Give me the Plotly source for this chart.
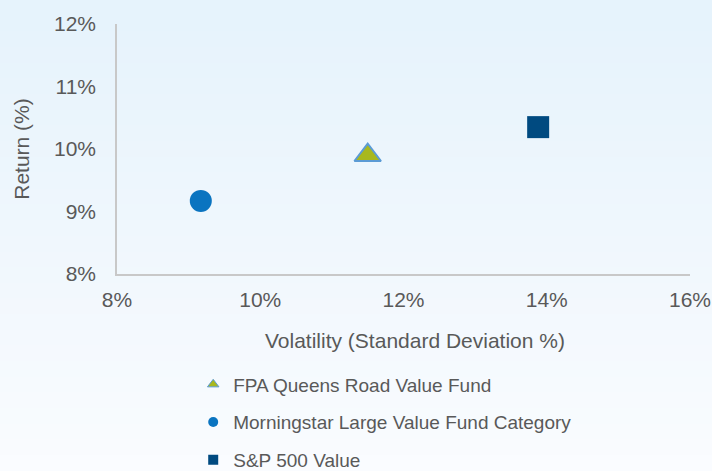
import plotly.graph_objects as go

names = ["FPA Queens Road Value Fund", "Morningstar Large Value Fund Category", "S&P 500 Value"]
volatility = [11.5, 9.17, 13.88]
returns = [9.9, 9.17, 10.35]
symbols = ["triangle-up", "circle", "square"]
fills = ["#a8b81e", "#0a74c0", "#004a80"]
outlines = ["#5b9bd5", "#0a74c0", "#004a80"]
sizes = [23, 22, 22]
legend_sizes = [10, 10, 10]
x_title = "Volatility (Standard Deviation %)"
y_title = "Return (%)"

fig = go.Figure()
for i in range(3):
    fig.add_trace(go.Scatter(
        x=[volatility[i]], y=[returns[i]], mode="markers", name=names[i],
        showlegend=False,
        marker=dict(symbol=symbols[i], size=sizes[i], color=fills[i],
                    line=dict(color=outlines[i], width=2 if i == 0 else 0)),
    ))
for i in range(3):
    fig.add_trace(go.Scatter(
        x=[None], y=[None], mode="markers", name=names[i], legendgroup=names[i],
        marker=dict(symbol=symbols[i], size=legend_sizes[i], color=fills[i],
                    line=dict(color=outlines[i], width=1 if i == 0 else 0)),
    ))

# background gradient
shapes = []
n = 30
top = (230, 243, 252)
bot = (250, 252, 255)
H = 250.0
y_top = 1 + 24 / H
y_bot = -197 / H
for k in range(n):
    t = k / (n - 1)
    c = tuple(int(top[j] + (bot[j] - top[j]) * t) for j in range(3))
    ya = y_top - (y_top - y_bot) * k / n
    yb = y_top - (y_top - y_bot) * (k + 1) / n
    if k == 0:
        ya += 1
    if k == n - 1:
        yb -= 1
    shapes.append(dict(type="rect", xref="paper", yref="paper", x0=-1, x1=2,
                       y0=yb - 0.004, y1=ya, fillcolor="rgb(%d,%d,%d)" % c,
                       line=dict(width=0), layer="below"))

font_family = "Liberation Sans, Arial, sans-serif"
fig.update_layout(
    width=712, height=471,
    margin=dict(l=117, r=22, t=24, b=197, autoexpand=False),
    paper_bgcolor="rgb(250,252,255)", plot_bgcolor="rgba(0,0,0,0)",
    shapes=shapes,
    font=dict(family=font_family, color="#595959", size=21),
    xaxis=dict(range=[8, 16], dtick=2, ticksuffix="%", showgrid=False, zeroline=False,
               showline=True, linecolor="#c8c8c8", linewidth=1.5, ticks="",
               ticklabelstandoff=6, tickfont=dict(size=21)),
    yaxis=dict(range=[8, 12], dtick=1, ticksuffix="%", showgrid=False, zeroline=False,
               showline=True, linecolor="#c8c8c8", linewidth=1.5, ticks="",
               ticklabelstandoff=15, tickfont=dict(size=21),
               title=dict(text=y_title, standoff=19, font=dict(size=21, color="#595959"))),
    annotations=[dict(text=x_title, xref="paper", yref="paper",
                      x=(415 - 117) / 573, y=-(340 - 274) / 250, xanchor="center", yanchor="middle",
                      showarrow=False, font=dict(size=21, color="#595959"))],
    showlegend=True,
    legend=dict(orientation="v", x=0.133, xanchor="left", y=-0.366, yanchor="top",
                bgcolor="rgba(0,0,0,0)", font=dict(size=19, color="#595959"),
                tracegroupgap=10, itemwidth=30),
)
fig.write_html("out.html", config={"displayModeBar": False},
               post_script="document.body.style.margin='0';")
